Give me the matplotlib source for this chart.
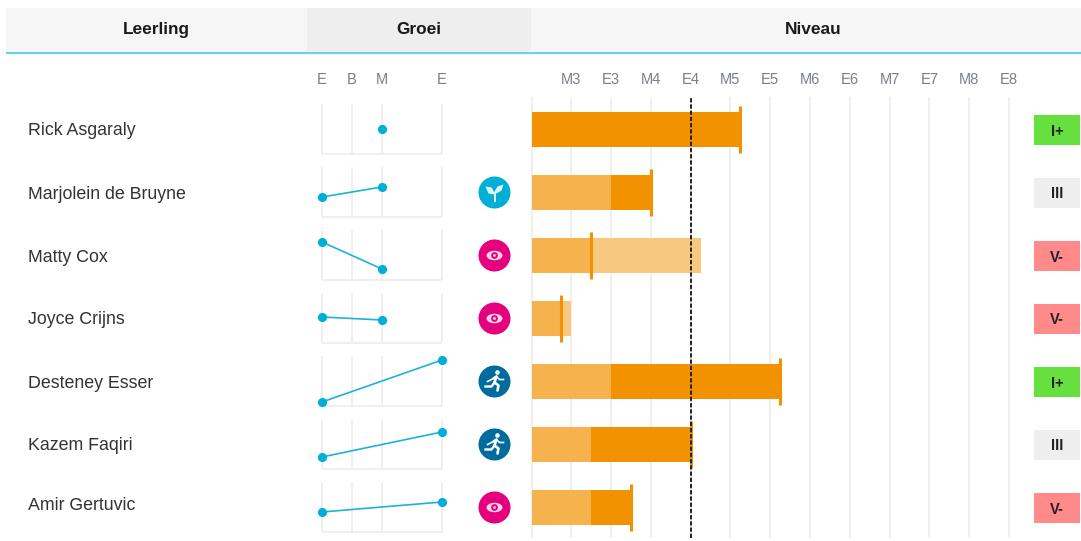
import matplotlib
matplotlib.use('Agg')
import matplotlib.pyplot as plt
from matplotlib.patches import Rectangle, Circle, Polygon, Ellipse

W, H = 1081, 541

plt.rcParams['font.family'] = ['Liberation Sans', 'DejaVu Sans']
plt.rcParams['text.hinting'] = 'no_autohint'

names = ['Rick Asgaraly', 'Marjolein de Bruyne', 'Matty Cox', 'Joyce Crijns',
         'Desteney Esser', 'Kazem Faqiri', 'Amir Gertuvic']

# groei: meetmomenten (E=0, B=1, M=2, E=4) en score per leerling
growth_ticks = [0, 1, 2, 4]
growth_labels = ['E', 'B', 'M', 'E']
growth_x = [[2], [0, 2], [0, 2], [0, 2], [0, 4], [0, 4], [0, 4]]
growth_y = [[25], [20, 30], [38, 11], [26, 23], [4, 46], [12, 37], [20, 30]]

icons = [None, 'sprout', 'eye', 'eye', 'run', 'run', 'eye']

# niveau: schaal in stappen, M3 = 1 ... E8 = 12
level_labels = ['M3', 'E3', 'M4', 'E4', 'M5', 'E5', 'M6', 'E6', 'M7', 'E7', 'M8', 'E8']
level_ticks = list(range(1, 13))
norm_level = 4
start_level = [0, 2, 1.5, 0.75, 2, 1.5, 1.5]
end_level = [5.25, 3, 4.25, 1, 6.25, 4, 2.5]
current_level = [5.25, 3, 1.5, 0.75, 6.25, 4, 2.5]

badges = ['I+', 'III', 'V-', 'V-', 'I+', 'III', 'V-']
badge_colors = {'I+': '#66E03F', 'III': '#EEEEEE', 'V-': '#FF8A8A'}

DARK = '#F39200'
MID = '#F5B24D'
LIGHT = '#F8C880'
GRID = '#EEEEEE'
BLUE = '#1DB2DA'
LABEL = '#7A8089'


def px_axes(fig, x0, y0, x1, y1, **kw):
    # rechthoek in pixels van linksboven
    return fig.add_axes([x0 / W, 1 - y1 / H, (x1 - x0) / W, (y1 - y0) / H], **kw)


def draw_icon(ax, kind, cx, cy):
    colors = {'sprout': '#00AFD7', 'eye': '#E5007D', 'run': '#006C9E'}
    ax.add_patch(Circle((cx, cy), 16, color=colors[kind], lw=0))
    if kind == 'eye':
        ax.add_patch(Ellipse((cx, cy), 16, 9.5, color='#FBD5E8', lw=0))
        ax.add_patch(Circle((cx, cy), 3.4, color=colors[kind], lw=0))
        ax.add_patch(Circle((cx, cy), 1.4, color='#FBD5E8', lw=0))
    elif kind == 'sprout':
        ax.add_patch(Polygon([(cx - 9, cy - 6), (cx - 3, cy - 5), (cx, cy), (cx - 1, cy + 2),
                              (cx - 6, cy + 1)], color='#E4F6FB', lw=0))
        ax.add_patch(Polygon([(cx + 9, cy - 8), (cx + 7, cy - 2), (cx + 2, cy + 1),
                              (cx, cy - 1), (cx + 3, cy - 6)], color='#E4F6FB', lw=0))
        ax.plot([cx, cx], [cy, cy + 8], color='#E4F6FB', lw=1.4)
    else:
        ax.add_patch(Circle((cx + 3, cy - 9), 2.3, color='white', lw=0))
        ax.plot([cx - 1, cx + 2, cx, cx + 4, cx + 3], [cy - 3, cy - 5, cy + 1, cy + 4, cy + 9],
                color='white', lw=1.9, solid_capstyle='round')
        ax.plot([cx + 2, cx + 5, cx + 9], [cy - 5, cy - 2, cy - 2], color='white', lw=1.2)
        ax.plot([cx - 1, cx - 3, cx - 7], [cy - 3, cy - 2, cy], color='white', lw=1.2)
        ax.plot([cx, cx - 3, cx - 9], [cy + 1, cy + 5, cy + 5], color='white', lw=1.7)


fig = plt.figure(figsize=(W / 100, H / 100), dpi=100)

# achtergrondlaag in pixels: kop, namen, iconen, badges
bg = px_axes(fig, 0, 0, W, H)
bg.set_xlim(0, W)
bg.set_ylim(H, 0)
bg.axis('off')
bg.add_patch(Rectangle((6, 8), 1075, 43, color='#F6F6F6', lw=0))
bg.add_patch(Rectangle((307, 8), 224, 43, color='#EEEEEE', lw=0))
bg.plot([6, W], [52.5, 52.5], color='#6BD0E8', lw=1.6, solid_capstyle='butt')
for label, x in [('Leerling', 156), ('Groei', 419), ('Niveau', 813)]:
    bg.text(x, 29.5, label, ha='center', va='center', fontsize=12.4, fontweight='bold', color='#1A1A1A')

name_y = [130.5, 194.5, 257, 319.5, 383, 446, 505.5]
for i, name in enumerate(names):
    cy = 129.5 + 63 * i
    bg.text(28, name_y[i], name, ha='left', va='center', fontsize=12.8, color='#333333')
    if icons[i]:
        draw_icon(bg, icons[i], 494.5, cy)
    bg.add_patch(Rectangle((1034, cy - 15), 45.5, 30, color=badge_colors[badges[i]], lw=0))
    bg.text(1057, cy + 0.5, badges[i], ha='center', va='center_baseline', fontsize=10.5, fontweight='bold', color='#222222')

# groei: kleine grafiekjes per leerling
for i in range(len(names)):
    top = 104 + 63 * i
    ax = px_axes(fig, 322, top, 442, top + 50)
    ax.patch.set_alpha(0)
    ax.set_xlim(0, 4)
    ax.set_ylim(0, 50)
    for s in ax.spines.values():
        s.set_visible(False)
    ax.vlines(growth_ticks, 0, 50, color=GRID, lw=1.3, clip_on=False, zorder=1)
    ax.hlines(0, 0, 4, color=GRID, lw=1.3, clip_on=False, zorder=1)
    ax.plot(growth_x[i], growth_y[i], color=BLUE, lw=1.2, marker='o', ms=6.6, mew=0,
            mfc='#00AFD7', clip_on=False, zorder=3)
    ax.set_yticks([])
    if i == 0:
        ax.set_xticks(growth_ticks, growth_labels, fontsize=10.6, color=LABEL)
        ax.tick_params(axis='x', top=False, bottom=False, labeltop=True, labelbottom=False, pad=9)
    else:
        ax.set_xticks([])

# niveau: balken
lv = px_axes(fig, 531.5, 97, 1009, 538)
lv.patch.set_alpha(0)
lv.set_xlim(0, 12)
lv.set_ylim(6.484, -0.516)
for s in lv.spines.values():
    s.set_visible(False)
lv.set_yticks([])
lv.set_xticks(level_ticks, level_labels, fontsize=10.6, color=LABEL)
lv.tick_params(axis='x', top=False, bottom=False, labeltop=True, labelbottom=False, pad=4)
lv.vlines([0] + level_ticks, -0.516, 6.484, color=GRID, lw=1.3, clip_on=False, zorder=1)

for i in range(len(names)):
    s, e, c = start_level[i], end_level[i], current_level[i]
    # boven de startwaarde donker, nog niet gehaald deel licht
    lv.barh(i, s, height=0.57, color=MID, zorder=2)
    lv.barh(i, e - s, left=s, height=0.57, color=DARK if c >= e else LIGHT, zorder=2)
    lv.vlines(c, i - 0.375, i + 0.375, color=DARK, lw=2.2, clip_on=False, zorder=3)

lv.axvline(norm_level, color='#222222', lw=1.4, ls=(0, (2.2, 1)), zorder=4)

fig.savefig('out.png', dpi=100)
